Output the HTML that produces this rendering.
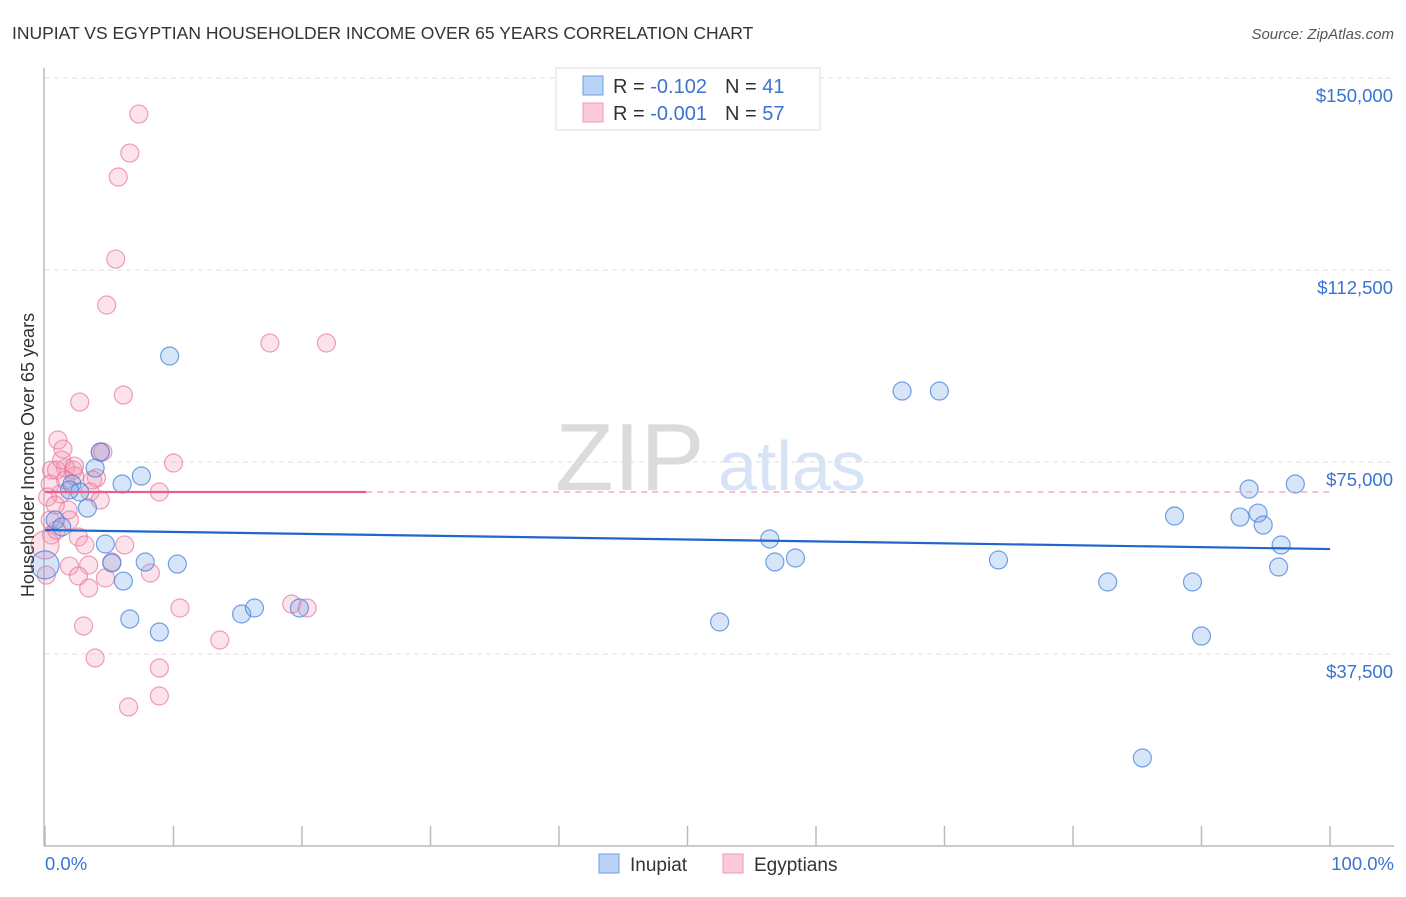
<!DOCTYPE html>
<html><head><meta charset="utf-8"><style>
body{margin:0;background:#fff;font-family:"Liberation Sans",sans-serif}
svg text{font-family:"Liberation Sans",sans-serif}
</style></head><body>
<svg id="chart" width="1406" height="892">
<text x="12" y="39" font-size="17.5" fill="#333">INUPIAT VS EGYPTIAN HOUSEHOLDER INCOME OVER 65 YEARS CORRELATION CHART</text>
<text x="1394" y="39" font-size="15" fill="#555" font-style="italic" text-anchor="end">Source: ZipAtlas.com</text>
<g opacity="0.35">
<text x="555" y="490" font-size="96" font-family="Liberation Serif" fill="#999">ZIP</text>
<text x="718" y="490" font-size="70" fill="#8fb3e8">atlas</text>
</g>
<g id="grid"></g>
<g id="axes"></g>
<g id="marks"></g>
<text transform="translate(34,455) rotate(-90)" font-size="18" fill="#333" text-anchor="middle">Householder Income Over 65 years</text>
<g>
<rect x="556" y="68" width="264" height="62" fill="#fff" stroke="#ddd"/>
<rect x="583" y="76" width="20" height="19" fill="#b8d3f5" stroke="#6d9ee6"/>
<text x="613" y="93" font-size="20" fill="#333">R = <tspan fill="#3b73d0"> -0.102</tspan><tspan dx="18">N = </tspan><tspan fill="#3b73d0"> 41</tspan></text>
<rect x="583" y="103" width="20" height="19" fill="#fbcad8" stroke="#ec9ab4"/>
<text x="613" y="120" font-size="20" fill="#333">R = <tspan fill="#3b73d0">-0.001</tspan><tspan dx="18">N = </tspan><tspan fill="#3b73d0">57</tspan></text>
</g>
<g>
<rect x="599" y="854" width="20" height="19" fill="#b8d3f5" stroke="#6d9ee6"/>
<text x="630" y="871" font-size="19" fill="#333">Inupiat</text>
<rect x="723" y="854" width="20" height="19" fill="#fbcad8" stroke="#ec9ab4"/>
<text x="754" y="871" font-size="19" fill="#333">Egyptians</text>
</g>
</svg>
<script>
const yTicks=[37500,75000,112500,150000];
const yTickLabels=["$37,500","$75,000","$112,500","$150,000"];
const xTickLabels=["0.0%","100.0%"];
const inupiatX=[0.0,0.8,1.3,3.9,4.3,2.1,2.7,3.3,6.0,7.5,9.7,4.7,5.2,6.1,7.8,10.3,6.6,8.9,15.3,16.3,19.8,52.5,56.4,56.8,58.4,66.7,69.6,74.2,82.7,87.9,89.3,90.0,93.0,93.7,94.4,94.8,96.0,96.2,97.3,85.4,1.9];
const inupiatY=[54900,63670,62300,73820,76950,70700,69140,66010,70700,72260,95700,58980,55270,51750,55470,55070,44330,41790,45310,46480,46480,43750,59960,55470,56250,88860,88860,55860,51560,64450,51560,41010,64250,69720,65030,62690,54490,58790,70700,17190,69530];
const egyptX=[7.3,6.6,5.7,5.5,4.8,17.5,21.9,2.7,6.1,1.0,1.4,4.3,4.5,10.0,0.5,1.6,2.2,2.3,4.0,0.4,1.2,3.5,8.9,0.2,1.8,0.8,2.6,0.5,3.1,6.2,0.0,1.9,3.4,5.2,2.6,4.7,3.4,8.2,10.5,13.6,19.2,20.4,3.0,3.9,8.9,8.9,6.5,0.9,1.6,0.1,1.9,0.4,3.7,1.3,2.3,4.3,0.9];
const egyptY=[142960,135340,130660,114640,105660,98240,98240,86710,88080,79290,77530,76950,76950,74800,73430,73820,73430,72260,71870,70700,68750,69140,69140,68160,65620,66600,60350,60740,58790,58790,58790,54680,54880,55470,52730,52340,50390,53320,46480,40230,47260,46480,42970,36720,34760,29300,27150,73430,71480,52920,63670,63670,71480,75380,74210,67570,61710];
const inupiatTrend=[61710,58000];
const egyptTrend=[69140,69140];
const egyptTrendSolidEnd=25;
const NS="http://www.w3.org/2000/svg";
const X0=45,X1=1330,YB=846;
function xs(p){return X0+(X1-X0)*p/100;}
function ys(v){return YB-v*192/37500;}
function mk(tag,attrs,parent){const e=document.createElementNS(NS,tag);for(const k in attrs)e.setAttribute(k,attrs[k]);parent.appendChild(e);return e;}
const grid=document.getElementById('grid'),axes=document.getElementById('axes'),marks=document.getElementById('marks');
yTicks.forEach((t,i)=>{
 const l=mk('line',{x1:45,x2:1394,y1:ys(t),y2:ys(t),stroke:'#ddd','stroke-dasharray':'5,4'},grid);
 
 
 const tx=mk('text',{x:1393,y:ys(t)+24,'font-size':18.5,fill:'#3b73d0','text-anchor':'end'},axes);
 tx.textContent=yTickLabels[i];
 
 
});
let a=mk('line',{x1:44,x2:44,y1:68,y2:846,stroke:'#bbb','stroke-width':1.5},axes);


a=mk('line',{x1:44,x2:1394,y1:846,y2:846,stroke:'#bbb','stroke-width':1.5},axes);


for(let i=0;i<=10;i++){
 const t=mk('line',{x1:xs(i*10),x2:xs(i*10),y1:826,y2:846,stroke:'#bbb','stroke-width':1.5},axes);
 
 
}
let xl=mk('text',{x:45,y:870,'font-size':18.5,fill:'#3b73d0'},axes);xl.textContent=xTickLabels[0];


xl=mk('text',{x:1394,y:870,'font-size':18.5,fill:'#3b73d0','text-anchor':'end'},axes);xl.textContent=xTickLabels[1];


egyptX.forEach((x,i)=>{
 const c=mk('circle',{cx:xs(x),cy:ys(egyptY[i]),r:(x===0?14:9),fill:'rgba(245,150,180,0.28)',stroke:'rgba(232,120,155,0.7)','stroke-width':1.2},marks);
 
 
});
inupiatX.forEach((x,i)=>{
 const c=mk('circle',{cx:xs(x),cy:ys(inupiatY[i]),r:(x===0?14:9),fill:'rgba(110,160,230,0.28)',stroke:'rgba(70,130,220,0.75)','stroke-width':1.2},marks);
 
 
});
let tl=mk('line',{x1:xs(0),x2:xs(100),y1:ys(inupiatTrend[0]),y2:ys(inupiatTrend[1]),stroke:'#2266cc','stroke-width':2.2},marks);


const eAt=p=>egyptTrend[0]+(egyptTrend[1]-egyptTrend[0])*p/100;
tl=mk('line',{x1:xs(0),x2:xs(egyptTrendSolidEnd),y1:ys(eAt(0)),y2:ys(eAt(egyptTrendSolidEnd)),stroke:'#e8608a','stroke-width':2.2},marks);


tl=mk('line',{x1:xs(egyptTrendSolidEnd),x2:xs(100),y1:ys(eAt(egyptTrendSolidEnd)),y2:ys(eAt(100)),stroke:'#eaa0b8','stroke-width':1.2,'stroke-dasharray':'6,5'},marks);


</script>
</body></html>
